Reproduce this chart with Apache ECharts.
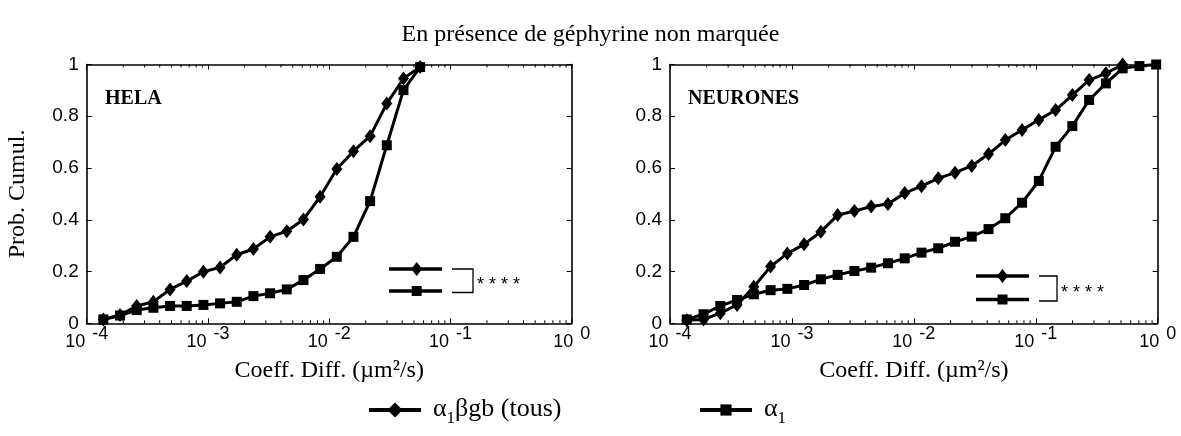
<!DOCTYPE html>
<html>
<head>
<meta charset="utf-8">
<script src="https://cdn.jsdelivr.net/npm/echarts@6/dist/echarts.min.js"></script>
<style>
  html, body { margin: 0; padding: 0; background: #fff; }
  #chart { width: 1181px; height: 436px; }
</style>
</head>
<body>
<div id="chart"></div>
<script>
// Diffusion coefficient bins (µm²/s), log-spaced
const binCentres = [
  1.372e-4, 1.884e-4, 2.585e-4, 3.548e-4, 4.870e-4, 6.683e-4, 9.173e-4, 1.259e-3,
  1.728e-3, 2.371e-3, 3.255e-3, 4.467e-3, 6.131e-3, 8.414e-3, 1.155e-2, 1.585e-2,
  2.175e-2, 2.985e-2, 4.097e-2, 5.623e-2, 7.720e-2, 1.059e-1, 1.454e-1, 1.995e-1,
  2.738e-1, 3.758e-1, 5.158e-1, 7.079e-1, 9.716e-1
];

// Cumulative probabilities, HELA cells
const helaAlphaBeta = [
  0.015, 0.032, 0.067, 0.083, 0.131, 0.163, 0.199, 0.216, 0.265, 0.287,
  0.334, 0.356, 0.401, 0.489, 0.596, 0.665, 0.723, 0.849, 0.946, 0.990
];
const helaAlpha = [
  0.015, 0.030, 0.051, 0.060, 0.067, 0.067, 0.071, 0.077, 0.083, 0.105,
  0.116, 0.131, 0.167, 0.210, 0.257, 0.334, 0.472, 0.688, 0.901, 0.990
];

// Cumulative probabilities, neurons
const neuronesAlphaBeta = [
  0.012, 0.015, 0.039, 0.071, 0.141, 0.219, 0.270, 0.305, 0.354, 0.418,
  0.434, 0.451, 0.461, 0.503, 0.530, 0.560, 0.582, 0.608, 0.654, 0.708,
  0.747, 0.786, 0.824, 0.882, 0.940, 0.966, 1.000
];
const neuronesAlpha = [
  0.015, 0.035, 0.067, 0.090, 0.112, 0.128, 0.133, 0.148, 0.170, 0.187,
  0.202, 0.215, 0.232, 0.251, 0.273, 0.290, 0.315, 0.335, 0.364, 0.406,
  0.466, 0.550, 0.682, 0.762, 0.863, 0.927, 0.985, 0.994, 1.000
];

// Minor tick marks of the log axes: mantissa × 10^decade
const minorMantissas = [2, 3, 4, 5, 6, 7, 8, 9];
const minorDecades = [-4, -3, -2, -1];

const seriesNames = ['α1βgb (tous)', 'α1'];
const panelNames = ['HELA', 'NEURONES'];
const titleText = 'En présence de géphyrine non marquée';
const xAxisName = 'Coeff. Diff. (µm²/s)';
const yAxisName = 'Prob. Cumul.';
const significance = '* * * *';

const SERIF = 'Liberation Serif';
const SANS = 'Liberation Sans';

const grids = [
  { left: 86.7, right: 609.3, top: 64.5, bottom: 112.7 },
  { left: 670, right: 23.3, top: 64.5, bottom: 112.7 }
];

function pairs(values) {
  return values.map((v, i) => [binCentres[i], v]);
}

const minorTickValues = [];
minorDecades.forEach(d => minorMantissas.forEach(m => minorTickValues.push(m * Math.pow(10, d))));

const frameLine = { show: true, onZero: false, lineStyle: { color: '#000', width: 1.6 } };
const majorTick = { show: true, inside: true, length: 5, lineStyle: { color: '#000', width: 1 } };

const xAxes = [];
const yAxes = [];
grids.forEach((g, gi) => {
  const xBase = {
    type: 'log', logBase: 10, min: 1e-4, max: 1, gridIndex: gi,
    axisLine: frameLine, axisTick: majorTick, minorTick: { show: false },
    splitLine: { show: false }, minorSplitLine: { show: false }
  };
  xAxes.push(Object.assign({}, xBase, {
    position: 'bottom',
    name: xAxisName, nameLocation: 'middle', nameGap: 35,
    nameTextStyle: { fontFamily: SERIF, fontSize: 24, color: '#000' },
    axisLabel: {
      margin: 2,
      formatter: v => '{b|10}{s|' + Math.round(Math.log10(v)) + '}',
      rich: {
        b: { fontFamily: SANS, fontSize: 18, color: '#000', lineHeight: 18, padding: [15, 0, 0, 0] },
        s: { fontFamily: SANS, fontSize: 18, color: '#000', lineHeight: 18, verticalAlign: 'top', padding: [0, 0, 0, 7] }
      }
    }
  }));
  xAxes.push(Object.assign({}, xBase, { position: 'top', axisLabel: { show: false } }));

  const yBase = {
    type: 'value', min: 0, max: 1, interval: 0.2, gridIndex: gi,
    axisLine: frameLine, axisTick: majorTick, splitLine: { show: false }
  };
  yAxes.push(Object.assign({}, yBase, {
    position: 'left',
    name: gi === 0 ? yAxisName : '', nameLocation: 'middle', nameGap: 57,
    nameTextStyle: { fontFamily: SERIF, fontSize: 24, color: '#000' },
    axisLabel: {
      margin: 8, fontFamily: SANS, fontSize: 19, color: '#000',
      formatter: v => String(Math.round(v * 10) / 10)
    }
  }));
  yAxes.push(Object.assign({}, yBase, { position: 'right', axisLabel: { show: false } }));
});

function lineSeries(name, data, gi, symbol, size) {
  return {
    type: 'line', name: name, data: pairs(data),
    xAxisIndex: gi * 2, yAxisIndex: gi * 2,
    symbol: symbol, symbolSize: size, showSymbol: true,
    lineStyle: { color: '#000', width: 3 },
    itemStyle: { color: '#000' },
    animation: false, silent: true
  };
}

// Log-spaced minor ticks on the bottom and top edges of a panel
function minorTickSeries(gi) {
  return {
    type: 'custom', xAxisIndex: gi * 2, yAxisIndex: gi * 2,
    data: minorTickValues.map(v => [v]),
    silent: true, animation: false, clip: false,
    encode: { x: 0 },
    renderItem: (params, api) => {
      const v = api.value(0);
      const b = api.coord([v, 0]);
      const t = api.coord([v, 1]);
      const st = { stroke: '#000', lineWidth: 1 };
      return {
        type: 'group',
        children: [
          { type: 'line', shape: { x1: b[0], y1: b[1], x2: b[0], y2: b[1] - 3 }, style: st },
          { type: 'line', shape: { x1: t[0], y1: t[1], x2: t[0], y2: t[1] + 3 }, style: st }
        ]
      };
    }
  };
}

const series = [
  minorTickSeries(0),
  minorTickSeries(1),
  lineSeries(seriesNames[0], helaAlphaBeta, 0, 'diamond', [11, 14]),
  lineSeries(seriesNames[1], helaAlpha, 0, 'rect', 10),
  lineSeries(seriesNames[0], neuronesAlphaBeta, 1, 'diamond', [11, 14]),
  lineSeries(seriesNames[1], neuronesAlpha, 1, 'rect', 10)
];

// Small key with significance bracket inside each panel
function insetKey(cx, x0, x1, yTop, yBot, bx0, bx1, starY) {
  const els = [];
  els.push({ type: 'line', shape: { x1: x0, y1: yTop, x2: x1, y2: yTop }, style: { stroke: '#000', lineWidth: 3.5 } });
  els.push({ type: 'line', shape: { x1: x0, y1: yBot, x2: x1, y2: yBot }, style: { stroke: '#000', lineWidth: 3.5 } });
  els.push({ type: 'polygon', shape: { points: [[cx, yTop - 7], [cx + 5.5, yTop], [cx, yTop + 7], [cx - 5.5, yTop]] }, style: { fill: '#000' } });
  els.push({ type: 'rect', shape: { x: cx - 5, y: yBot - 5, width: 10, height: 10 }, style: { fill: '#000' } });
  els.push({ type: 'polyline', shape: { points: [[bx0, yTop], [bx1, yTop], [bx1, yBot + 1.5], [bx0, yBot + 1.5]] }, style: { stroke: '#000', lineWidth: 1.3, fill: null } });
  els.push({ type: 'text', style: { x: bx1 + 4, y: starY, text: significance, font: '18px ' + SANS, fill: '#000', textVerticalAlign: 'middle' } });
  return els;
}

const graphic = [
  { type: 'text', style: { x: 105, y: 98.5, text: panelNames[0], font: 'bold 20px ' + SERIF, fill: '#000', textVerticalAlign: 'middle' } },
  { type: 'text', style: { x: 688, y: 98.5, text: panelNames[1], font: 'bold 20px ' + SERIF, fill: '#000', textVerticalAlign: 'middle' } }
].concat(
  insetKey(416.7, 389, 442, 269, 291, 452, 473, 285),
  insetKey(1002.5, 976, 1029, 276, 299.5, 1039, 1057, 293)
);

function legendFor(name, left, itemHeight) {
  return {
    data: [name], left: left, top: 396, padding: 0,
    itemWidth: 52, itemHeight: itemHeight,
    lineStyle: { width: 4 },
    selectedMode: false,
    textStyle: {
      fontFamily: SERIF, fontSize: 26, color: '#000',
      rich: {
        p: { fontFamily: SERIF, fontSize: 26, color: '#000', lineHeight: 28, verticalAlign: 'top', padding: [0, 0, 0, 7] },
        a: { fontFamily: SERIF, fontSize: 26, color: '#000', lineHeight: 28, verticalAlign: 'top' },
        sub: { fontFamily: SERIF, fontSize: 17, color: '#000', lineHeight: 17, verticalAlign: 'top', padding: [14, 0, 0, 0] }
      }
    },
    formatter: n => {
      const rest = n.slice(2);
      return '{p|α}{sub|1}' + (rest ? '{a|' + rest + '}' : '');
    }
  };
}

const chart = echarts.init(document.getElementById('chart'), null, { renderer: 'canvas' });
chart.setOption({
  animation: false,
  backgroundColor: '#fff',
  title: {
    text: titleText, left: 'center', top: 18,
    textStyle: { fontFamily: SERIF, fontSize: 24, fontWeight: 'normal', color: '#000' }
  },
  legend: [legendFor(seriesNames[0], 367, 19), legendFor(seriesNames[1], 698, 14)],
  grid: grids,
  xAxis: xAxes,
  yAxis: yAxes,
  series: series,
  graphic: graphic
});
</script>
</body>
</html>
